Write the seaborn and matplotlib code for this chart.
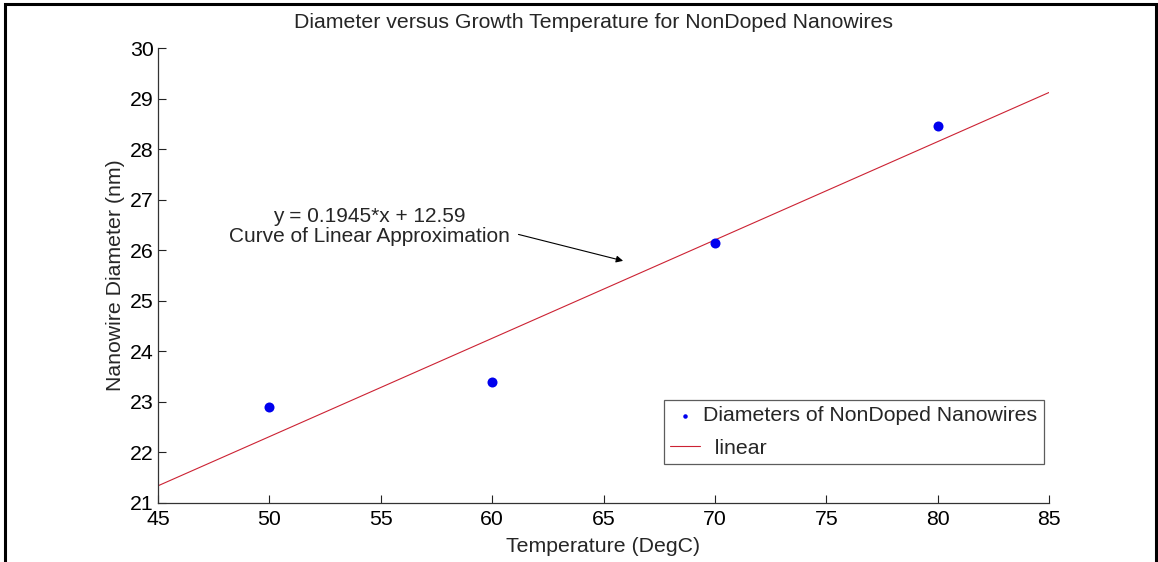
import matplotlib
matplotlib.use("Agg")
import matplotlib.pyplot as plt
import seaborn as sns
import pandas as pd
from matplotlib.patches import Rectangle

# data
temperature = [50, 60, 70, 80]
diameter = [22.9, 23.4, 26.15, 28.45]
fit_x = [45, 85]
fit_y = [21.34, 29.12]
x_ticks = [45, 50, 55, 60, 65, 70, 75, 80, 85]
y_ticks = [21, 22, 23, 24, 25, 26, 27, 28, 29, 30]

sns.set_style("ticks")
plt.rcParams['font.family'] = ['Liberation Sans', 'DejaVu Sans']
FS = 15.3

fig = plt.figure(figsize=(11.58, 5.62), dpi=100)
ax = fig.add_axes([158/1158, 1-503/562, (1049-158)/1158, (503-48)/562])

pts = pd.DataFrame({"Temperature": temperature, "Diameter": diameter})
fit = pd.DataFrame({"x": fit_x, "y": fit_y})

sns.scatterplot(data=pts, x="Temperature", y="Diameter", ax=ax, color="#0000ee",
                s=52, edgecolor="#0000ee", linewidth=0, label="Diameters of NonDoped Nanowires",
                zorder=3)
sns.lineplot(data=fit, x="x", y="y", ax=ax, color="#cc2233", linewidth=0.8,
             label="  linear", zorder=2)

ax.set_xlim(45, 85)
ax.set_ylim(21, 30)
ax.set_xticks(x_ticks)
ax.set_yticks(y_ticks)
ax.tick_params(direction="in", length=6, width=0.8, labelsize=FS, colors="#222222",
               labelcolor="black")
ax.tick_params(axis="y", pad=3)
ax.tick_params(axis="x", pad=5)
sns.despine(ax=ax)
for s in ["left", "bottom"]:
    ax.spines[s].set_linewidth(0.9)
    ax.spines[s].set_color("#333333")

ax.set_xlabel("Temperature (DegC)", fontsize=FS, labelpad=6)
ax.set_ylabel("Nanowire Diameter (nm)", fontsize=FS, labelpad=4)
fig.text(593/1158, 1-22/562, "Diameter versus Growth Temperature for NonDoped Nanowires",
         ha="center", va="center", fontsize=FS)

ax.annotate("y = 0.1945*x + 12.59\nCurve of Linear Approximation",
            xy=(65.88, 25.79), xytext=(54.5, 26.47), ha="center", va="center",
            fontsize=15, linespacing=1.12,
            arrowprops=dict(arrowstyle="-|>", color="black", lw=0.8, mutation_scale=10,
                            shrinkA=0, shrinkB=0, relpos=(1.03, 0.3)))

leg = ax.legend(loc="upper left", bbox_to_anchor=((664-158)/891, 1-(400-48)/455),
                frameon=True, fancybox=False, fontsize=FS, borderpad=0.3,
                handlelength=1.4, handletextpad=0.15, labelspacing=0.62, markerscale=0.45,
                borderaxespad=0)
leg.get_frame().set_edgecolor("#333333")
leg.get_frame().set_linewidth(0.9)

fig.patches.append(Rectangle((5/1158, -0.02), (1156-5)/1158, 1.02 - 3.5/562,
                             transform=fig.transFigure, fill=False, lw=2.2,
                             edgecolor="black"))

fig.savefig("out.png", dpi=100)
